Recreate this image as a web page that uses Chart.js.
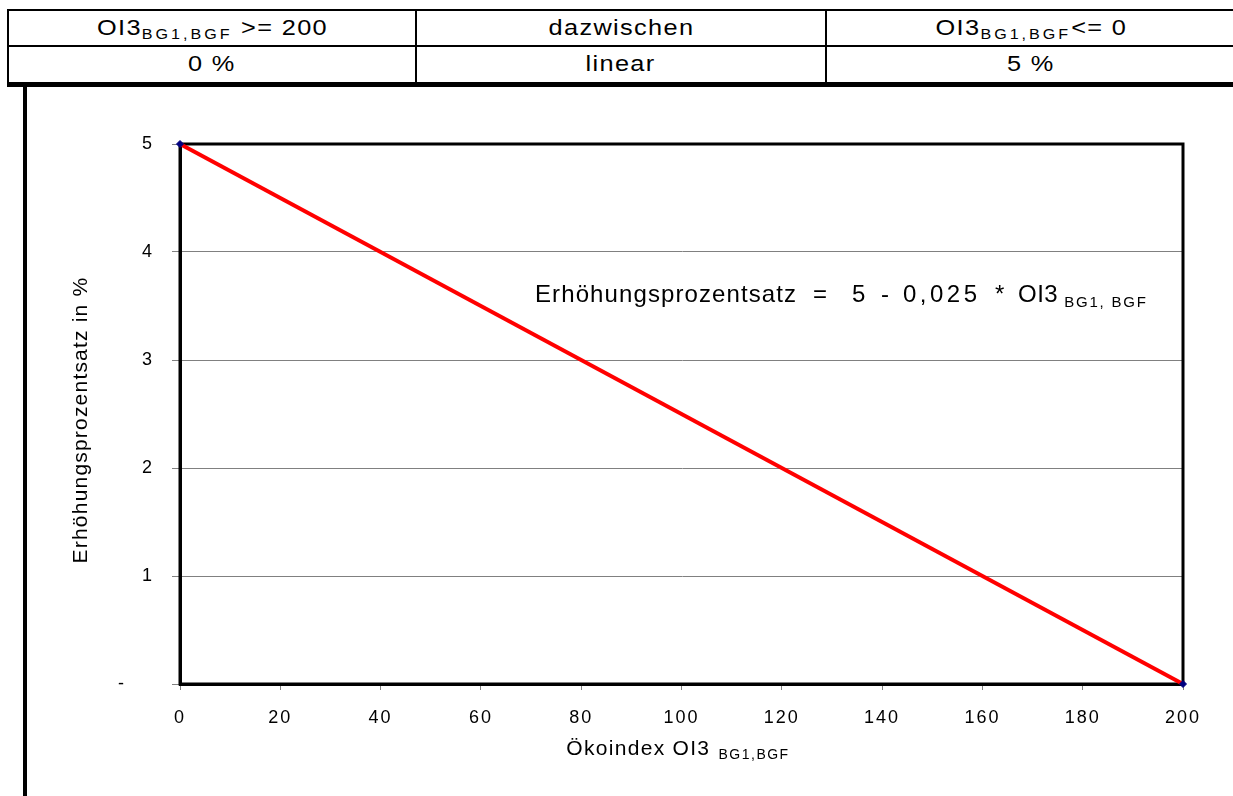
<!DOCTYPE html>
<html>
<head>
<meta charset="utf-8">
<script src="https://cdn.jsdelivr.net/npm/chart.js@4.4.0/dist/chart.umd.min.js"></script>
<style>
  body { margin: 0; background: #fff; font-family: "Liberation Sans", Arial, sans-serif; }
  #wrap { position: relative; width: 1233px; height: 796px; overflow: hidden; }
  .ln { position: absolute; background: #000; }
  .cell { position: absolute; text-align: center; color: #000; line-height: 33px; white-space: nowrap; }
  .cell span { display: inline-block; font-size: 22px; letter-spacing: 1.2px; transform: scaleX(1.15); }
  .cell sub { font-size: 14px; letter-spacing: 2.6px; vertical-align: -4px; line-height: 0; }
  #chartBox { position: absolute; left: 27px; top: 88px; width: 1206px; height: 708px; }
</style>
</head>
<body>
<div id="wrap">
  <!-- Kopftabelle -->
  <div class="ln" style="left:7px;top:9px;width:1230px;height:2px"></div>
  <div class="ln" style="left:7px;top:45px;width:1230px;height:2px"></div>
  <div class="ln" style="left:7px;top:82px;width:1230px;height:5px"></div>
  <div class="ln" style="left:7px;top:9px;width:2px;height:78px"></div>
  <div class="ln" style="left:415px;top:9px;width:2px;height:78px"></div>
  <div class="ln" style="left:825px;top:9px;width:2px;height:78px"></div>
  <div class="ln" style="left:23px;top:85px;width:4px;height:711px"></div>

  <div class="cell" style="left:9px;top:11px;width:406px"><span>OI3<sub>BG1,BGF</sub> &gt;= 200</span></div>
  <div class="cell" style="left:417px;top:11px;width:408px"><span>dazwischen</span></div>
  <div class="cell" style="left:827px;top:11px;width:408px"><span>OI3<sub>BG1,BGF</sub>&lt;= 0</span></div>
  <div class="cell" style="left:9px;top:47px;width:406px"><span>0 %</span></div>
  <div class="cell" style="left:417px;top:47px;width:408px"><span>linear</span></div>
  <div class="cell" style="left:827px;top:47px;width:408px"><span>5 %</span></div>

  <div id="chartBox"><canvas id="chart"></canvas></div>
</div>

<script>
// Werte
var oi3Werte = [0, 200];
var prozentWerte = [5, 0];
var xMin = 0, xMax = 200, xStep = 20;
var yMin = 0, yMax = 5, yStep = 1;
var yNullLabel = '-    ';
var formelTeile = ['Erhöhungsprozentsatz', '=', '5', '-', '0,025', '*', 'OI3'];
var formelIndex = 'BG1, BGF';
var xTitel = 'Ökoindex OI3 ';
var xTitelIndex = 'BG1,BGF';
var yTitel = 'Erhöhungsprozentsatz in %';

var FONT = '"Liberation Sans", Arial, sans-serif';

var rahmenPlugin = {
  id: 'rahmen',
  beforeDraw: function(chart) {
    // breitere Laufweite wie im Original (Achsbeschriftung)
    chart.ctx.letterSpacing = '2px';
  },
  beforeDatasetsDraw: function(chart) {
    var a = chart.chartArea, ctx = chart.ctx;
    ctx.save();
    ctx.strokeStyle = '#000';
    ctx.lineWidth = 3;
    ctx.strokeRect(a.left, a.top, a.right - a.left, a.bottom - a.top);
    ctx.restore();
  },
  afterDraw: function(chart) {
    var a = chart.chartArea, ctx = chart.ctx;
    ctx.save();
    ctx.fillStyle = '#000';
    ctx.textBaseline = 'alphabetic';
    ctx.textAlign = 'left';

    // Formel im Diagramm, Teile mit Abstand wie im Original
    var abstand = [0, 278, 317, 346, 368, 460, 483];
    var sperr = ['1.1px', '0px', '0px', '0px', '3.5px', '0px', '0.5px'];
    var fy = a.top + 158;
    ctx.font = '24px ' + FONT;
    var ende = 0;
    formelTeile.forEach(function(t, i) {
      ctx.letterSpacing = sperr[i];
      var x0 = a.left + 355 + abstand[i];
      ctx.fillText(t, x0, fy);
      ende = x0 + ctx.measureText(t).width;
    });
    ctx.font = '15px ' + FONT;
    ctx.letterSpacing = '1.8px';
    ctx.fillText(formelIndex, ende + 6, fy + 5);

    // x-Achsentitel
    ctx.font = '21px ' + FONT;
    ctx.letterSpacing = '1.3px';
    var w1 = ctx.measureText(xTitel).width;
    ctx.font = '14px ' + FONT;
    ctx.letterSpacing = '1.5px';
    var w2 = ctx.measureText(xTitelIndex).width;
    var cx = (a.left + a.right) / 2 - 4;
    var tx = cx - (w1 + w2) / 2, ty = a.bottom + 71;
    ctx.font = '21px ' + FONT;
    ctx.letterSpacing = '1.3px';
    ctx.fillText(xTitel, tx, ty);
    ctx.font = '14px ' + FONT;
    ctx.letterSpacing = '1.5px';
    ctx.fillText(xTitelIndex, tx + w1 + 1, ty + 4);

    // y-Achsentitel
    ctx.font = '21px ' + FONT;
    ctx.letterSpacing = '1.2px';
    ctx.translate(a.left - 93, (a.top + a.bottom) / 2 + 6);
    ctx.rotate(-Math.PI / 2);
    ctx.textAlign = 'center';
    ctx.fillText(yTitel, 0, 0);
    ctx.restore();
  }
};

new Chart(document.getElementById('chart'), {
  type: 'scatter',
  data: {
    datasets: [{
      data: oi3Werte.map(function(x, i) { return { x: x, y: prozentWerte[i] }; }),
      showLine: true,
      clip: false,
      borderColor: '#ff0000',
      borderWidth: 4,
      pointStyle: 'rectRot',
      pointRadius: 3.5,
      pointBackgroundColor: '#000080',
      pointBorderColor: '#000080',
      pointBorderWidth: 1
    }]
  },
  options: {
    responsive: true,
    maintainAspectRatio: false,
    animation: false,
    layout: { padding: { top: 56, right: 50, left: 0, bottom: 0 } },
    plugins: { legend: { display: false }, tooltip: { enabled: false } },
    scales: {
      x: {
        type: 'linear',
        min: xMin, max: xMax,
        afterFit: function(s) { s.height = 112; },
        ticks: { stepSize: xStep, color: '#000', font: { family: FONT, size: 18 }, padding: 17, maxRotation: 0 },
        grid: { drawOnChartArea: false, drawTicks: true, tickLength: 6, color: '#808080' },
        border: { display: true, color: '#000', width: 3 }
      },
      y: {
        min: yMin, max: yMax,
        afterFit: function(s) { s.width = 153; },
        ticks: {
          stepSize: yStep, color: '#000', font: { family: FONT, size: 18 }, padding: 18,
          callback: function(v) { return v === 0 ? yNullLabel : String(v); }
        },
        grid: { color: '#808080', lineWidth: 1, tickLength: 8 },
        border: { display: true, color: '#000', width: 3 }
      }
    }
  },
  plugins: [rahmenPlugin]
});
</script>
</body>
</html>
